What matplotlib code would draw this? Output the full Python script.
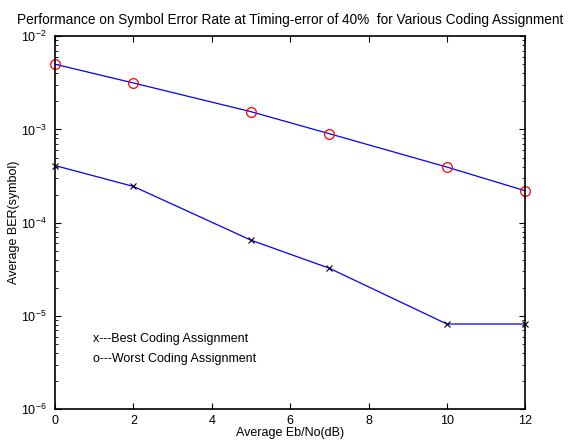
import matplotlib
matplotlib.use("Agg")
import matplotlib.pyplot as plt

plt.rcParams['font.family'] = ['Liberation Sans', 'DejaVu Sans']
plt.rcParams['mathtext.fontset'] = 'custom'
plt.rcParams['mathtext.rm'] = 'Liberation Sans'
plt.rcParams['mathtext.it'] = 'Liberation Sans'

ebno = [0, 2, 5, 7, 10, 12]
ber_best = [4.1e-4, 2.45e-4, 6.5e-5, 3.25e-5, 8.2e-6, 8.2e-6]
ber_worst = [5.0e-3, 3.15e-3, 1.55e-3, 9.0e-4, 3.95e-4, 2.2e-4]

fig = plt.figure(figsize=(5.7, 4.41), dpi=100)
ax = fig.add_axes([0.0965, 0.072, 0.825, 0.846])

ax.semilogy(ebno, ber_best, color='blue', lw=0.9)
ax.semilogy(ebno, ber_best, 'x', color='black', ms=4, mew=0.8, clip_on=False)
ax.semilogy(ebno, ber_worst, color='blue', lw=0.9)
ax.semilogy(ebno, ber_worst, 'o', mfc='none', mec='red', ms=7, mew=0.9, clip_on=False)

ax.set_xlim(0, 12)
ax.set_ylim(1e-6, 1e-2)
ax.set_xticks([0, 2, 4, 6, 8, 10, 12])
ax.tick_params(which='both', direction='in', top=True, right=True, labelsize=9)
ax.tick_params(which='major', length=4)
ax.tick_params(which='minor', length=2)
ax.tick_params(axis='x', which='major', pad=4)
ax.tick_params(axis='y', which='major', pad=6)
for s in ax.spines.values():
    s.set_linewidth(1.2)

ax.set_xlabel('Average Eb/No(dB)', fontsize=9, labelpad=0)
ax.set_ylabel('Average BER(symbol)', fontsize=9, labelpad=1)
ax.set_title('Performance on Symbol Error Rate at Timing-error of 40%  for Various Coding Assignment',
             fontsize=9.8, pad=9)

ax.text(0.08, 0.187, 'x---Best Coding Assignment', transform=ax.transAxes, fontsize=9, va='center')
ax.text(0.08, 0.134, 'o---Worst Coding Assignment', transform=ax.transAxes, fontsize=9, va='center')

plt.savefig('out.png', dpi=100)
